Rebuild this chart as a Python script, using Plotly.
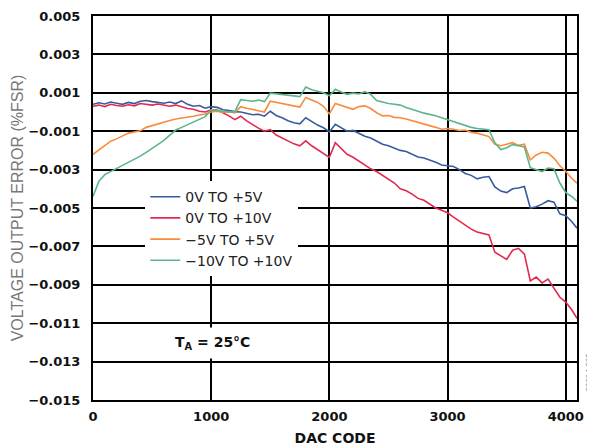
import plotly.graph_objects as go

# DAC code sample positions
dac_code = list(range(0, 4051, 50)) + [4095]

# Voltage output error (%FSR)
err_0_to_5 = [
    0.00040, 0.00048, 0.00042, 0.00052, 0.00046, 0.00040, 0.00050, 0.00044, 0.00056, 0.00060,
    0.00054, 0.00050, 0.00046, 0.00052, 0.00044, 0.00058, 0.00040, 0.00030, 0.00034, 0.00020,
    0.00028, 0.00024, 0.00012, 0.00008, 0.00002, 0.00000, -0.00008, -0.00014, -0.00012, -0.00022,
    0.00004, -0.00018, -0.00030, -0.00046, -0.00056, -0.00062, -0.00030, -0.00050, -0.00068, -0.00082,
    -0.00104, -0.00064, -0.00080, -0.00100, -0.00096, -0.00112, -0.00126, -0.00136, -0.00150, -0.00168,
    -0.00176, -0.00190, -0.00200, -0.00206, -0.00222, -0.00234, -0.00240, -0.00250, -0.00262, -0.00276,
    -0.00280, -0.00284, -0.00300, -0.00320, -0.00330, -0.00348, -0.00340, -0.00336, -0.00390, -0.00412,
    -0.00420, -0.00400, -0.00396, -0.00388, -0.00500, -0.00494, -0.00480, -0.00462, -0.00470, -0.00530,
    -0.00540, -0.00570, -0.00605,
]
err_0_to_10 = [
    0.00030, 0.00036, 0.00028, 0.00040, 0.00034, 0.00030, 0.00038, 0.00032, 0.00044, 0.00040,
    0.00036, 0.00042, 0.00034, 0.00030, 0.00036, 0.00026, 0.00018, 0.00014, 0.00004, 0.00000,
    0.00012, 0.00010, -0.00004, -0.00020, -0.00040, -0.00022, -0.00046, -0.00066, -0.00084, -0.00100,
    -0.00092, -0.00120, -0.00136, -0.00150, -0.00166, -0.00176, -0.00150, -0.00176, -0.00196, -0.00212,
    -0.00236, -0.00160, -0.00190, -0.00220, -0.00236, -0.00256, -0.00280, -0.00296, -0.00310, -0.00330,
    -0.00348, -0.00370, -0.00400, -0.00410, -0.00428, -0.00450, -0.00460, -0.00480, -0.00500, -0.00512,
    -0.00525, -0.00548, -0.00568, -0.00590, -0.00610, -0.00625, -0.00632, -0.00640, -0.00730, -0.00750,
    -0.00768, -0.00720, -0.00710, -0.00740, -0.00880, -0.00860, -0.00890, -0.00870, -0.00920, -0.00965,
    -0.00990, -0.01030, -0.01075,
]
err_m5_to_5 = [
    -0.00220, -0.00198, -0.00176, -0.00152, -0.00140, -0.00126, -0.00110, -0.00104, -0.00098, -0.00080,
    -0.00070, -0.00062, -0.00050, -0.00044, -0.00036, -0.00030, -0.00024, -0.00022, -0.00016, -0.00010,
    0.00000, 0.00004, -0.00002, 0.00002, -0.00004, 0.00028, 0.00020, 0.00014, 0.00008, 0.00000,
    0.00056, 0.00050, 0.00042, 0.00036, 0.00030, 0.00026, 0.00076, 0.00064, 0.00050, 0.00030,
    -0.00010, 0.00044, 0.00034, 0.00020, 0.00014, 0.00028, 0.00032, 0.00018, -0.00004, -0.00020,
    -0.00018, -0.00028, -0.00030, -0.00036, -0.00044, -0.00054, -0.00060, -0.00070, -0.00080, -0.00090,
    -0.00086, -0.00090, -0.00096, -0.00094, -0.00106, -0.00110, -0.00120, -0.00128, -0.00168, -0.00176,
    -0.00168, -0.00160, -0.00174, -0.00168, -0.00250, -0.00224, -0.00210, -0.00214, -0.00240, -0.00280,
    -0.00310, -0.00345, -0.00370,
]
err_m10_to_10 = [
    -0.00440, -0.00360, -0.00326, -0.00310, -0.00292, -0.00278, -0.00264, -0.00244, -0.00230, -0.00210,
    -0.00190, -0.00170, -0.00148, -0.00120, -0.00094, -0.00080, -0.00066, -0.00052, -0.00040, -0.00024,
    0.00012, 0.00008, 0.00004, 0.00000, 0.00002, 0.00064, 0.00060, 0.00056, 0.00062, 0.00054,
    0.00098, 0.00094, 0.00090, 0.00088, 0.00082, 0.00080, 0.00130, 0.00116, 0.00108, 0.00100,
    0.00084, 0.00118, 0.00104, 0.00092, 0.00098, 0.00094, 0.00106, 0.00092, 0.00060, 0.00052,
    0.00044, 0.00040, 0.00036, 0.00024, 0.00012, 0.00004, -0.00006, -0.00012, -0.00020, -0.00030,
    -0.00040, -0.00054, -0.00064, -0.00072, -0.00080, -0.00086, -0.00090, -0.00092, -0.00160, -0.00196,
    -0.00186, -0.00170, -0.00176, -0.00182, -0.00290, -0.00300, -0.00310, -0.00292, -0.00296, -0.00370,
    -0.00420, -0.00440, -0.00465,
]

series_names = ["0V TO +5V", "0V TO +10V", "\u22125V TO +5V", "\u221210V TO +10V"]
series_values = [err_0_to_5, err_0_to_10, err_m5_to_5, err_m10_to_10]
series_colors = ["#3a5aa0", "#e2294f", "#f98b3c", "#5db58a"]

x_ticks = [0, 1000, 2000, 3000, 4000]
y_ticks = [0.005, 0.003, 0.001, -0.001, -0.003, -0.005, -0.007, -0.009, -0.011, -0.013, -0.015]

fig = go.Figure()
for name, vals, col in zip(series_names, series_values, series_colors):
    fig.add_trace(go.Scatter(x=dac_code, y=vals, mode="lines", name=name,
                             line=dict(color=col, width=1.6)))

# The page body adds an 8px offset, so the figure is sized to fill the 595x447 window.
fig.update_layout(
    width=587, height=439,
    margin=dict(l=85, r=18, t=8, b=47, autoexpand=False),
    paper_bgcolor="white", plot_bgcolor="white",
    showlegend=True,
    legend=dict(x=0.108, y=0.57, xanchor="left", yanchor="top",
                bgcolor="white", borderwidth=0, tracegroupgap=0,
                font=dict(family="DejaVu Sans", size=14, color="#222")),
    xaxis=dict(range=[0, 4095], tickvals=x_ticks, ticktext=[str(v) for v in x_ticks],
               showgrid=True, gridcolor="black", gridwidth=1.6,
               showline=True, linecolor="black", linewidth=2, mirror=True,
               ticks="", zeroline=False, automargin=False, ticklabelstandoff=3,
               tickfont=dict(family="DejaVu Sans", size=13, color="#111", weight="bold"),
               title=dict(text="<b>DAC CODE</b>", font=dict(family="DejaVu Sans", size=14, color="#111"), standoff=11)),
    yaxis=dict(range=[-0.015, 0.005], tickvals=y_ticks, tickformat=".3f",
               showgrid=True, gridcolor="black", gridwidth=1.6,
               showline=True, linecolor="black", linewidth=2, mirror=True,
               ticks="", zeroline=False, ticklabelstandoff=8, automargin=False,
               tickfont=dict(family="DejaVu Sans", size=13, color="#111", weight="bold"),
               title=dict(text="VOLTAGE OUTPUT ERROR (%FSR)",
                          font=dict(family="Liberation Sans", size=16, color="#777"), standoff=1)),
)

fig.add_annotation(x=0.246, y=0.148, xref="paper", yref="paper", xanchor="center", yanchor="middle",
                   text="<b>T<sub>A</sub> = 25°C</b>", showarrow=False,
                   font=dict(family="DejaVu Sans", size=14, color="#111"),
                   bgcolor="white", borderpad=6)
fig.add_annotation(x=1.024, y=0.073, xref="paper", yref="paper", xanchor="center", yanchor="middle",
                   text="08694-005", textangle=-90, showarrow=False,
                   font=dict(family="Liberation Sans", size=8, color="#777"))

fig.write_html("out.html")
